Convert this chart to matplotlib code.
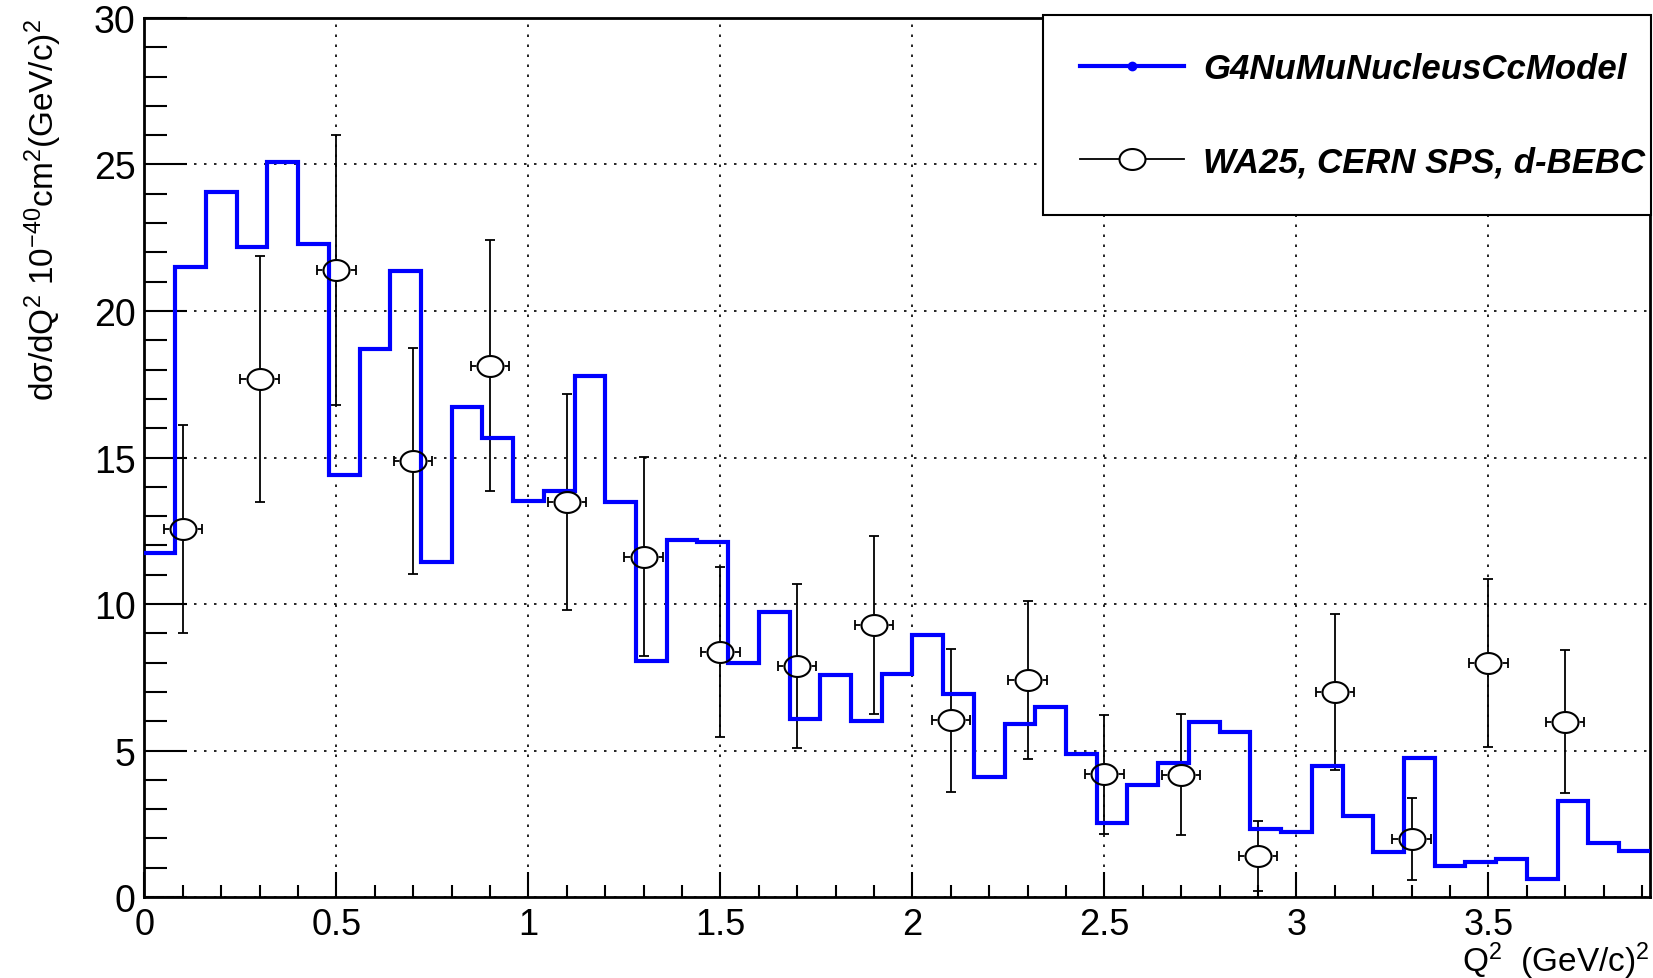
import numpy as np
import matplotlib
matplotlib.use("Agg")
import matplotlib.pyplot as plt
from matplotlib.path import Path
from matplotlib.lines import Line2D
from matplotlib.ticker import MultipleLocator, FormatStrFormatter

plt.rcParams['font.family'] = ['Liberation Sans', 'DejaVu Sans']
plt.rcParams['mathtext.default'] = 'regular'

# G4NuMuNucleusCcModel histogram, 49 bins from 0 to 3.92 (GeV/c)^2
q2_min = 0.0
q2_max = 3.92
model = [11.74, 21.5, 24.06, 22.2, 25.07, 22.3, 14.4, 18.72, 21.36, 11.44,
         16.73, 15.66, 13.53, 13.85, 17.77, 13.48, 8.05, 12.17, 12.11, 8.0,
         9.74, 6.06, 7.58, 6.0, 7.6, 8.95, 6.93, 4.1, 5.91, 6.47,
         4.89, 2.52, 3.83, 4.58, 5.99, 5.62, 2.33, 2.21, 4.47, 2.76,
         1.52, 4.73, 1.05, 1.18, 1.31, 0.62, 3.28, 1.83, 1.58]

# WA25, CERN SPS, d-BEBC data
q2 = [0.1, 0.3, 0.5, 0.7, 0.9, 1.1, 1.3, 1.5, 1.7, 1.9,
      2.1, 2.3, 2.5, 2.7, 2.9, 3.1, 3.3, 3.5, 3.7]
xsec = [12.55, 17.67, 21.39, 14.88, 18.14, 13.48, 11.62, 8.37, 7.89, 9.28,
        6.03, 7.42, 4.19, 4.18, 1.4, 6.99, 1.98, 7.99, 5.99]
xsec_err = [3.55, 4.2, 4.6, 3.85, 4.27, 3.69, 3.4, 2.9, 2.8, 3.04,
            2.45, 2.7, 2.03, 2.05, 1.18, 2.66, 1.41, 2.87, 2.45]
q2_err = 0.05

labels = ["G4NuMuNucleusCcModel", "WA25, CERN SPS, d-BEBC"]

edges = np.linspace(q2_min, q2_max, len(model) + 1)

# ROOT picture is stretched sideways, so the open circles look like ellipses
t = np.linspace(0, 2 * np.pi, 64)
ellipse = Path(np.column_stack([1.24 * np.cos(t), np.sin(t)]), closed=True)
m_size = 18.7

fig = plt.figure(figsize=(16.53, 9.79), dpi=100)
ax = fig.add_axes([0.0874, 0.0827, 0.9106, 0.8979])

ax.errorbar(q2, xsec, yerr=xsec_err, xerr=q2_err, fmt='none', ecolor='black',
            elinewidth=1.3, capsize=3.6, capthick=1.3, zorder=2)
ax.plot(q2, xsec, ls='none', marker=ellipse, ms=m_size, mfc='white', mec='white',
        mew=1.5, zorder=3)
ax.stairs(model, edges, baseline=None, color='#0000ff', lw=3, zorder=4)
ax.plot(q2, xsec, ls='none', marker=ellipse, ms=m_size, mfc='none', mec='black',
        mew=1.5, zorder=5)

ax.set_xlim(q2_min, q2_max)
ax.set_ylim(0, 30)
ax.xaxis.set_major_locator(MultipleLocator(0.5))
ax.xaxis.set_minor_locator(MultipleLocator(0.1))
ax.yaxis.set_major_locator(MultipleLocator(5))
ax.yaxis.set_minor_locator(MultipleLocator(1))
ax.xaxis.set_major_formatter(FormatStrFormatter('%g'))
ax.yaxis.set_major_formatter(FormatStrFormatter('%g'))

ax.tick_params(which='both', direction='in', top=False, right=False, width=1.5)
ax.tick_params(axis='y', which='major', length=31, pad=6.5, labelsize=27)
ax.tick_params(axis='y', which='minor', length=16.5)
ax.tick_params(axis='x', which='major', length=18, pad=7, labelsize=26)
ax.tick_params(axis='x', which='minor', length=9)
for s in ax.spines.values():
    s.set_linewidth(2)

ax.grid(True, which='major', color='black', linestyle=(0, (1.5, 4.5)), linewidth=1.2)

ax.set_xlabel('Q$^{2}$  (GeV/c)$^{2}$', fontsize=24, ha='right', va='baseline')
ax.xaxis.set_label_coords(1.0, -0.084)
ax.text(-0.067, 1.0, 'd\u03c3/dQ$^{2}$ 10$^{-40}$cm$^{2}$(GeV/c)$^{2}$', rotation=90,
        ha='center', va='top', fontsize=24, transform=ax.transAxes)

h_model = Line2D([], [], color='#0000ff', lw=3, marker='o', ms=6)
h_data = Line2D([], [], color='black', lw=1.3, marker=ellipse, ms=m_size,
                mfc='white', mec='black', mew=1.5)
leg = ax.legend([h_model, h_data], labels, loc='upper left', mode='expand',
                bbox_to_anchor=(0.597, 0.7, 0.404, 0.303),
                borderaxespad=0, fancybox=False, edgecolor='black', framealpha=1,
                prop=dict(size=25, weight='bold', style='italic'), labelspacing=1.75,
                borderpad=1.05, handlelength=3.0, handletextpad=0.55, numpoints=1)
leg.get_frame().set_linewidth(1.5)

plt.savefig("out.png", dpi=100)
